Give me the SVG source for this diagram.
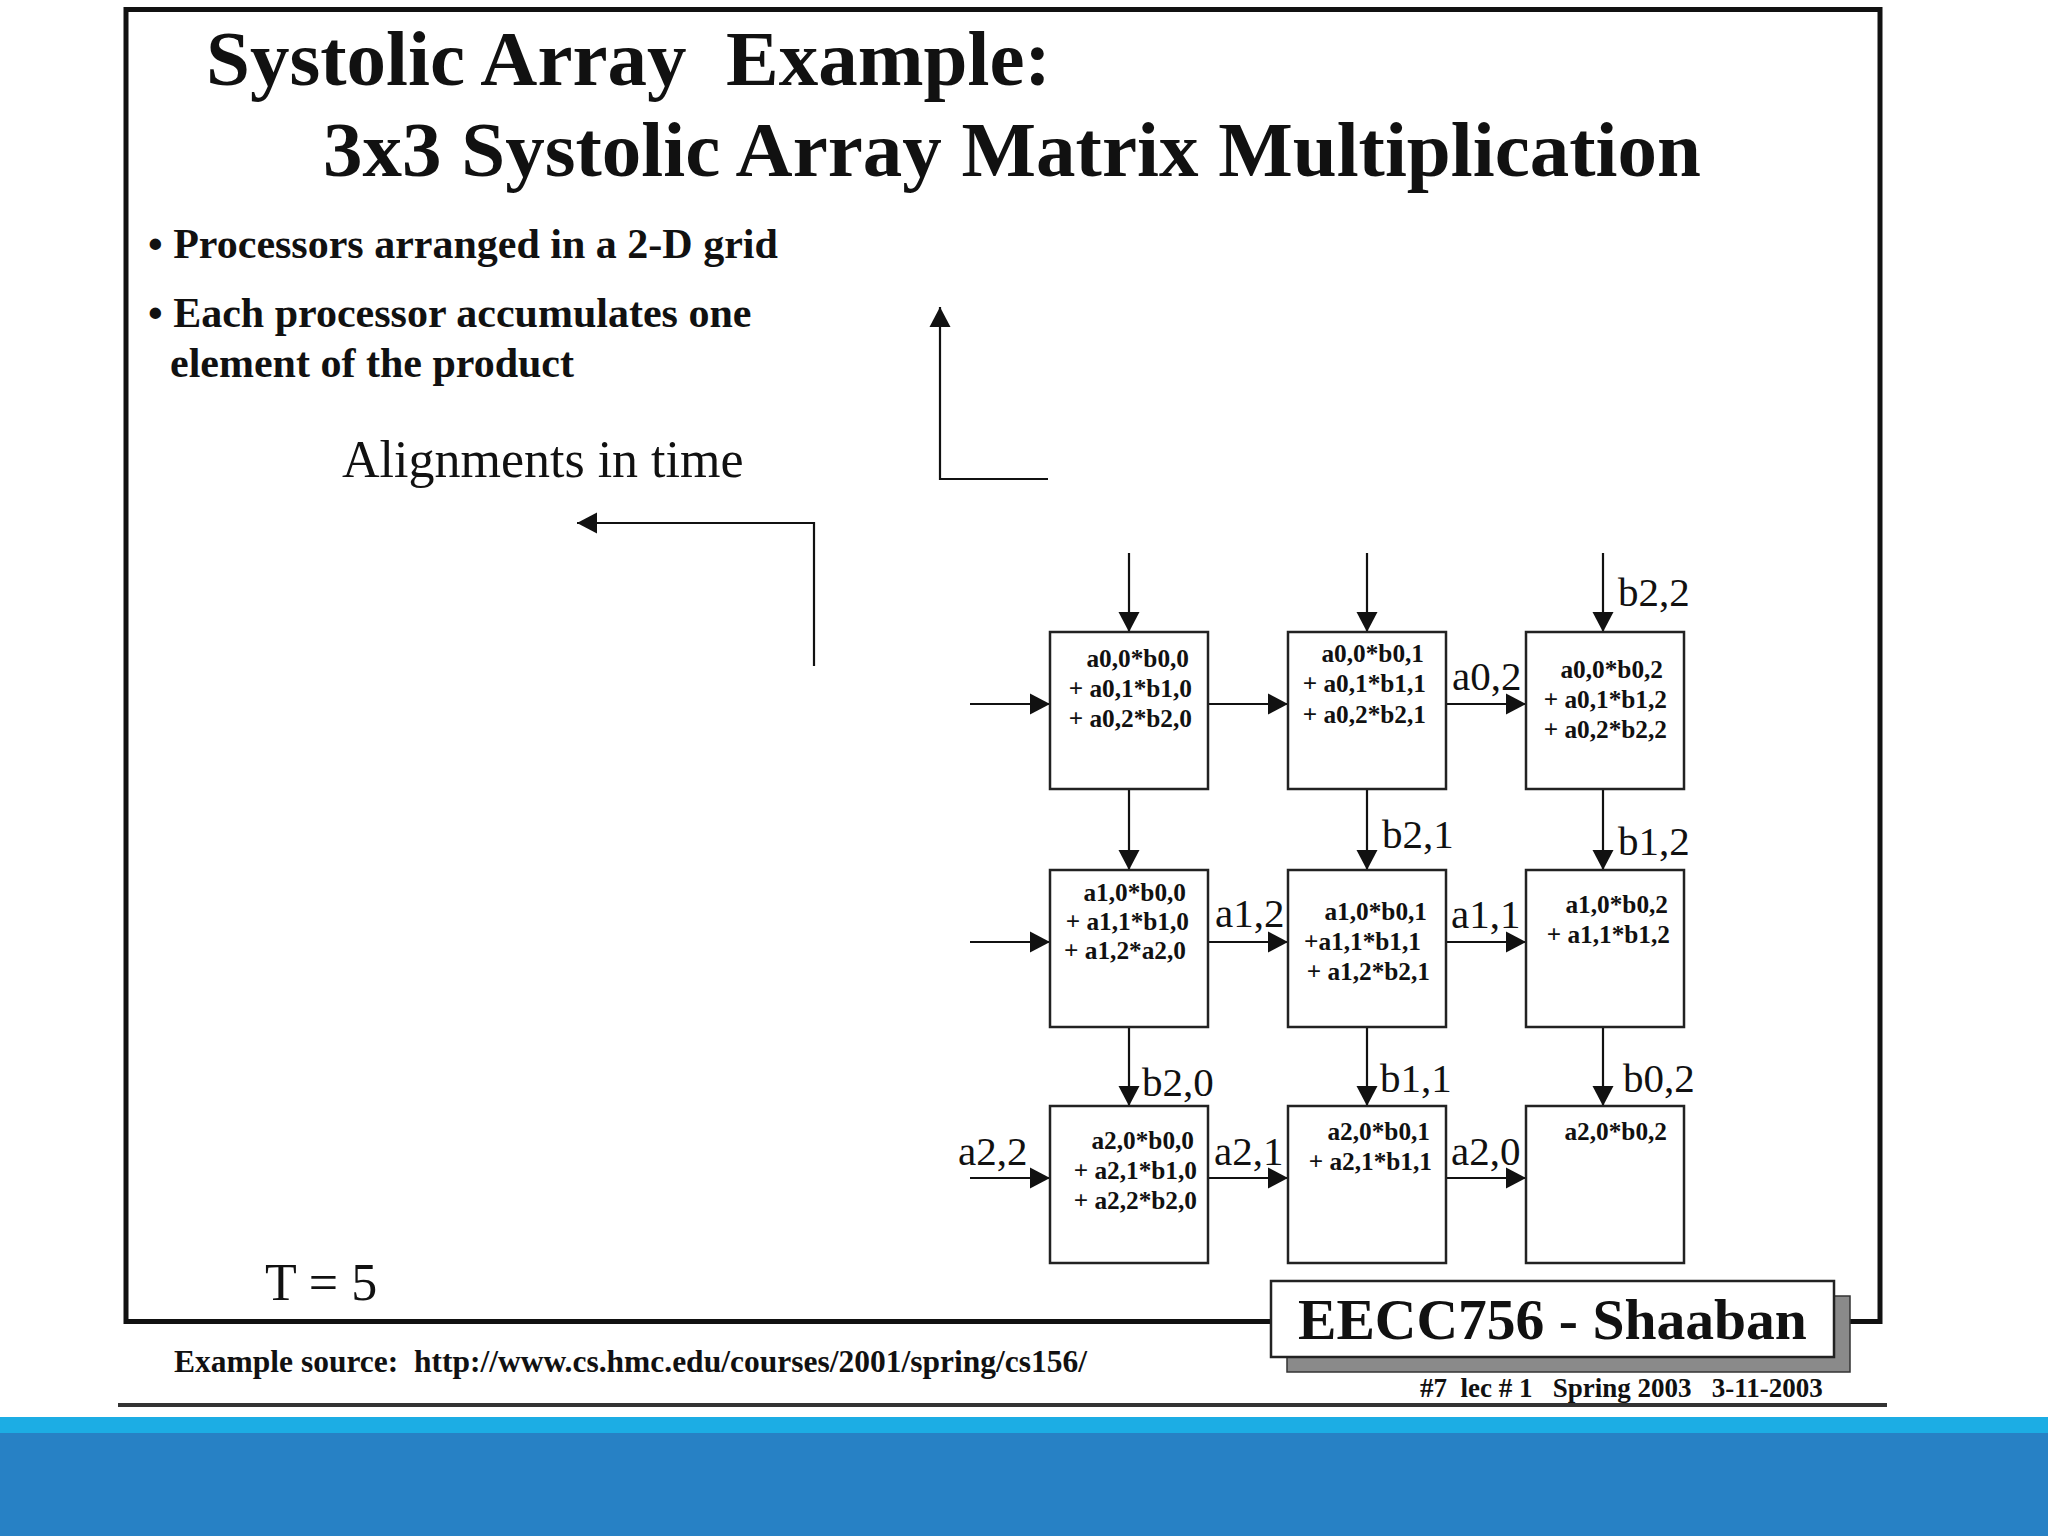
<svg xmlns="http://www.w3.org/2000/svg" width="2048" height="1536" viewBox="0 0 2048 1536">
<style>
.t{font-family:"Liberation Serif","Times New Roman",serif;fill:#111}
.b{font-weight:bold}
.title{font-size:79px;font-weight:bold}
.bul{font-size:42px;font-weight:bold}
.cell{fill:#fff;stroke:#222;stroke-width:2.5}
.ct{font-family:"Liberation Serif","Times New Roman",serif;font-weight:bold;font-size:25.3px;fill:#111;text-anchor:end}
.lbl{font-family:"Liberation Serif","Times New Roman",serif;font-size:41px;fill:#111}
.ln{fill:none;stroke:#111;stroke-width:2.2}
</style>
<defs>
<marker id="ah" markerUnits="userSpaceOnUse" markerWidth="21" markerHeight="22" refX="20" refY="10.5" orient="auto" viewBox="0 0 21 21">
<path d="M0,0 L20,10.5 L0,21 z" fill="#111"/>
</marker>
</defs>
<rect x="0" y="0" width="2048" height="1536" fill="#fff"/>
<rect x="126" y="9.5" width="1754" height="1312" fill="#fff" stroke="#111" stroke-width="5"/>

<g id="title">
<text class="t title" x="206" y="85" xml:space="preserve">Systolic Array  Example:</text>
<text class="t title" x="323" y="176">3x3 Systolic Array Matrix Multiplication</text>
</g>
<g id="bullets">
<text class="t bul" x="148" y="258">• Processors arranged in a 2-D grid</text>
<text class="t bul" x="148" y="327">• Each processor accumulates one</text>
<text class="t bul" x="170" y="377">element of the product</text>
</g>
<g id="alignments">
<text class="t" x="342" y="477" font-size="52">Alignments in time</text>
</g>
<g id="tlabel">
<text class="t" x="265" y="1300" font-size="52">T = 5</text>
</g>

<g id="connectors">
<polyline class="ln" points="1048,479 940,479 940,307" marker-end="url(#ah)"/>
<polyline class="ln" points="814,666 814,523 577,523" marker-end="url(#ah)"/>
<line class="ln" x1="1129" y1="553" x2="1129" y2="632" marker-end="url(#ah)"/>
<line class="ln" x1="1367" y1="553" x2="1367" y2="632" marker-end="url(#ah)"/>
<line class="ln" x1="1603" y1="553" x2="1603" y2="632" marker-end="url(#ah)"/>
<line class="ln" x1="1129" y1="789" x2="1129" y2="870" marker-end="url(#ah)"/>
<line class="ln" x1="1367" y1="789" x2="1367" y2="870" marker-end="url(#ah)"/>
<line class="ln" x1="1603" y1="789" x2="1603" y2="870" marker-end="url(#ah)"/>
<line class="ln" x1="1129" y1="1027" x2="1129" y2="1106" marker-end="url(#ah)"/>
<line class="ln" x1="1367" y1="1027" x2="1367" y2="1106" marker-end="url(#ah)"/>
<line class="ln" x1="1603" y1="1027" x2="1603" y2="1106" marker-end="url(#ah)"/>
<line class="ln" x1="970" y1="704" x2="1050" y2="704" marker-end="url(#ah)"/>
<line class="ln" x1="1208" y1="704" x2="1288" y2="704" marker-end="url(#ah)"/>
<line class="ln" x1="1446" y1="704" x2="1526" y2="704" marker-end="url(#ah)"/>
<line class="ln" x1="970" y1="942" x2="1050" y2="942" marker-end="url(#ah)"/>
<line class="ln" x1="1208" y1="942" x2="1288" y2="942" marker-end="url(#ah)"/>
<line class="ln" x1="1446" y1="942" x2="1526" y2="942" marker-end="url(#ah)"/>
<line class="ln" x1="970" y1="1178" x2="1050" y2="1178" marker-end="url(#ah)"/>
<line class="ln" x1="1208" y1="1178" x2="1288" y2="1178" marker-end="url(#ah)"/>
<line class="ln" x1="1446" y1="1178" x2="1526" y2="1178" marker-end="url(#ah)"/>
<text class="lbl" x="1618" y="606">b2,2</text>
<text class="lbl" x="1452" y="690">a0,2</text>
<text class="lbl" x="1382" y="848">b2,1</text>
<text class="lbl" x="1618" y="855">b1,2</text>
<text class="lbl" x="1215" y="927">a1,2</text>
<text class="lbl" x="1451" y="928">a1,1</text>
<text class="lbl" x="1142" y="1096">b2,0</text>
<text class="lbl" x="1380" y="1092">b1,1</text>
<text class="lbl" x="1623" y="1092">b0,2</text>
<text class="lbl" x="958" y="1165">a2,2</text>
<text class="lbl" x="1214" y="1165">a2,1</text>
<text class="lbl" x="1451" y="1165">a2,0</text>
</g>

<g id="p00">
<rect class="cell" x="1050" y="632" width="158" height="157"/>
<text class="ct" x="1189" y="667">a0,0*b0,0</text>
<text class="ct" x="1192" y="697">+ a0,1*b1,0</text>
<text class="ct" x="1192" y="727">+ a0,2*b2,0</text>
</g>
<g id="p01">
<rect class="cell" x="1288" y="632" width="158" height="157"/>
<text class="ct" x="1424" y="662">a0,0*b0,1</text>
<text class="ct" x="1426" y="692">+ a0,1*b1,1</text>
<text class="ct" x="1426" y="723">+ a0,2*b2,1</text>
</g>
<g id="p02">
<rect class="cell" x="1526" y="632" width="158" height="157"/>
<text class="ct" x="1663" y="678">a0,0*b0,2</text>
<text class="ct" x="1667" y="708">+ a0,1*b1,2</text>
<text class="ct" x="1667" y="738">+ a0,2*b2,2</text>
</g>
<g id="p10">
<rect class="cell" x="1050" y="870" width="158" height="157"/>
<text class="ct" x="1186" y="901">a1,0*b0,0</text>
<text class="ct" x="1189" y="930">+ a1,1*b1,0</text>
<text class="ct" x="1186" y="959">+ a1,2*a2,0</text>
</g>
<g id="p11">
<rect class="cell" x="1288" y="870" width="158" height="157"/>
<text class="ct" x="1427" y="920">a1,0*b0,1</text>
<text class="ct" x="1421" y="950">+a1,1*b1,1</text>
<text class="ct" x="1430" y="980">+ a1,2*b2,1</text>
</g>
<g id="p12">
<rect class="cell" x="1526" y="870" width="158" height="157"/>
<text class="ct" x="1668" y="913">a1,0*b0,2</text>
<text class="ct" x="1670" y="943">+ a1,1*b1,2</text>
</g>
<g id="p20">
<rect class="cell" x="1050" y="1106" width="158" height="157"/>
<text class="ct" x="1194" y="1149">a2,0*b0,0</text>
<text class="ct" x="1197" y="1179">+ a2,1*b1,0</text>
<text class="ct" x="1197" y="1209">+ a2,2*b2,0</text>
</g>
<g id="p21">
<rect class="cell" x="1288" y="1106" width="158" height="157"/>
<text class="ct" x="1430" y="1140">a2,0*b0,1</text>
<text class="ct" x="1432" y="1170">+ a2,1*b1,1</text>
</g>
<g id="p22">
<rect class="cell" x="1526" y="1106" width="158" height="157"/>
<text class="ct" x="1667" y="1140">a2,0*b0,2</text>
</g>

<g id="badge">
<rect x="1287" y="1296" width="563" height="76" fill="#8a8a8a" stroke="#333" stroke-width="1.5"/>
<rect x="1271" y="1281" width="563" height="76" fill="#fff" stroke="#222" stroke-width="2.5"/>
<text class="t b" x="1298" y="1339" font-size="57.6">EECC756 - Shaaban</text>
</g>
<g id="footer">
<text class="t b" x="174" y="1372" font-size="31.5" xml:space="preserve">Example source:  http://www.cs.hmc.edu/courses/2001/spring/cs156/</text>
<text class="t b" x="1420" y="1397" font-size="27" xml:space="preserve">#7  lec # 1   Spring 2003   3-11-2003</text>
<line x1="118" y1="1405" x2="1887" y2="1405" stroke="#333" stroke-width="4"/>
</g>
<g id="band">
<rect x="0" y="1417" width="2048" height="16" fill="#1CADE4"/>
<rect x="0" y="1433" width="2048" height="103" fill="#2781C5"/>
</g>
</svg>
